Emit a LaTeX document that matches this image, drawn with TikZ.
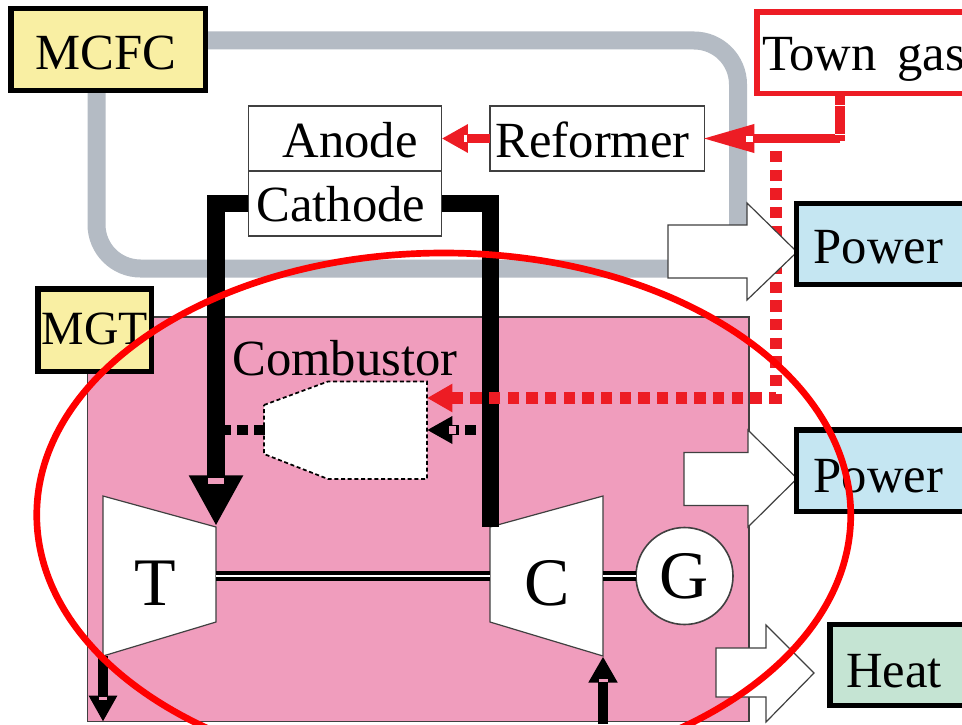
\documentclass[tikz,border=0pt]{standalone}
\usepackage{fontspec}
\setmainfont{Liberation Serif}
\usetikzlibrary{arrows.meta}
\definecolor{pinkfill}{HTML}{F09DBD}
\definecolor{bluefill}{HTML}{C5E6F2}
\definecolor{greenfill}{HTML}{C5E4D3}
\definecolor{yellowfill}{HTML}{F9EFA3}
\definecolor{pipegrey}{HTML}{B4BBC4}
\definecolor{gasred}{HTML}{ED1C24}
\definecolor{edgegrey}{HTML}{404040}
\tikzset{
  bx/.style 2 args={minimum width=#1*0.75pt,minimum height=#2*0.75pt,inner sep=0pt,outer sep=0pt},
  txt/.style={font=\fontsize{38}{38}\selectfont,text height=29pt,text depth=0pt},
  thinbox/.style={draw=edgegrey,line width=1pt,fill=white,txt},
  heavybox/.style={draw=black,line width=4pt,txt},
  pipe/.style={draw=pipegrey,line width=13.5pt,rounded corners=33pt},
  heavyline/.style={draw=black,line width=13pt},
  gasline/.style={draw=gasred,line width=7.2pt},
  dotred/.style={draw=gasred,line width=8.5pt,dash pattern=on 8.5pt off 5.5pt},
  dotblack/.style={draw=black,line width=7.5pt,dash pattern=on 8.25pt off 4.5pt},
  bigarrow/.style={fill=white,draw=edgegrey,line width=0.9pt,line join=miter},
  machine/.style={fill=white,draw=edgegrey,line width=0.9pt},
  shaft/.style={draw=black,line width=3pt,double=white,double distance=1.2pt},
  letter/.style={font=\fontsize{51}{51}\selectfont,inner sep=0pt},
  slit/.style={fill=#1,draw=none},
}
\begin{document}
\begin{tikzpicture}[x=0.75pt,y=-0.75pt]
\clip (0,0) rectangle (962,724);
\fill[white] (0,0) rectangle (962,724);

% pink MGT block
\draw[fill=pinkfill,draw=edgegrey,line width=1.1pt] (87.3,317) rectangle (749,721.7);

% grey loop
\coordinate (loopA) at (96.5,90);
\coordinate (loopB) at (96.5,268.5);
\coordinate (loopC) at (680,268.5);
\coordinate (loopD) at (205,40.5);
\coordinate (loopE) at (738,40.5);
\coordinate (loopF) at (738,240);
\draw[pipe] (loopA) -- (loopB) -- (loopC);
\draw[pipe] (loopD) -- (loopE) -- (loopF);

% combustor
\coordinate (cbA) at (264,405);
\coordinate (cbB) at (328,381.5);
\coordinate (cbC) at (427,381.5);
\coordinate (cbD) at (427,479);
\coordinate (cbE) at (328,479);
\coordinate (cbF) at (264,454);
\coordinate (cbGas) at (427,398);
\coordinate (cbAir) at (427,430);
\coordinate (cbOut) at (265,430);
\draw[fill=white,draw=black,line width=1.3pt,dash pattern=on 3pt off 2pt] (cbA) -- (cbB) -- (cbC) -- (cbD) -- (cbE) -- (cbF) -- cycle;
\node[txt,text height=22.5pt,inner sep=0pt] (combustor) at (345,360) {Combustor};

% turbine and compressor
\coordinate (tA) at (103,496);
\coordinate (tB) at (216,527);
\coordinate (tC) at (216,622);
\coordinate (tD) at (103,656);
\coordinate (cA) at (490,527);
\coordinate (cB) at (603,496);
\coordinate (cC) at (603,656);
\coordinate (cD) at (490,622);
\draw[machine] (tA) -- (tB) -- (tC) -- (tD) -- cycle;
\draw[machine] (cA) -- (cB) -- (cC) -- (cD) -- cycle;
\node[letter] (tlabel) at (155,583) {T};
\node[letter] (clabel) at (547,583) {C};
\coordinate (tShaft) at (216,576);
\coordinate (cShaft) at (490,576);
\coordinate (cShaftR) at (603,576);
\draw[shaft] (tShaft) -- (cShaft);
\node[circle,draw=edgegrey,line width=1.2pt,fill=white,minimum size=97*0.75pt,inner sep=0pt,outer sep=0pt,letter] (gen) at (684.5,576) {G};
\draw[shaft] (cShaftR) -- (gen.west);

% black lines
\node[thinbox,bx={193.5}{65}] (anode) at (345,138.5) {\hspace*{7.5pt}Anode};
\node[thinbox,bx={193.5}{65},text height=27.4pt] (cathode) at (345,203.5) {\hspace*{-6pt}Cathode};
\node[thinbox,bx={214.3}{65}] (reformer) at (597.2,138.5) {\hspace*{-6.8pt}Reformer};
\coordinate (hotL) at (216,203.5);
\coordinate (hotR) at (490.5,203.5);
\coordinate (tipT) at (216,526);
\coordinate (cEnd) at (490.5,527);
\draw[heavyline,-{Triangle[length=38pt,width=38pt,sep=0pt]}] (cathode.west) -- (hotL) -- (tipT);
\draw[heavyline] (cathode.east) -- (hotR) -- (cEnd);
\draw[dotblack] (cbOut) -- (tipT |- cbOut);
\coordinate (cAir) at (493,430);
\draw[dotblack,-{Triangle[length=19pt,width=19.5pt,sep=0pt]}] (cAir) -- (cbAir);

% town gas box and red lines
\node[draw=gasred,line width=4.4pt,bx={260}{81.5},txt,text height=26pt,fill=white,text width=250*0.75pt,align=left] (town) at (887,52.75) {Town\hspace{3pt} gas};
\coordinate (tap) at (840,138.5);
\coordinate (tapEnd) at (840,141);
\draw[draw=gasred,line width=7.5pt] (town.south -| tap) -- (tapEnd);
\draw[gasline,-{Triangle[length=40pt,width=19.5pt,sep=0pt]},shorten >=-2.4pt] (tap) -- (reformer.east);
\draw[gasline,-{Triangle[length=19.5pt,width=20pt,sep=0pt]}] (reformer.west) -- (anode.east);
\coordinate (gasTop) at (776,151);
\coordinate (gasBend) at (776,398);
\draw[dotred,-{Triangle[length=19pt,width=20pt,sep=0pt]}] (gasTop) -- (gasBend) -- (cbGas);

% big white arrows and their boxes
\coordinate (p1tip) at (797,252);
\coordinate (p2tip) at (797,478.5);
\draw[bigarrow] (668,225) -- (747,225) -- (747,203) -- (p1tip) -- (747,300) -- (747,278) -- (668,278) -- cycle;
\draw[bigarrow] (684,452.5) -- (748,452.5) -- (748,430) -- (p2tip) -- (748,527) -- (748,505.5) -- (684,505.5) -- cycle;
\coordinate (h1tip) at (814,673);
\draw[bigarrow] (716,648) -- (766,648) -- (766,625) -- (h1tip) -- (766,722) -- (766,697) -- (716,697) -- cycle;
\node[heavybox,fill=bluefill,bx={200}{81},text height=28.5pt,text width=166*0.75pt,align=left] (power1) at (896.5,244) {Power};
\node[heavybox,fill=bluefill,bx={200}{81.5},text height=33pt,text width=166*0.75pt,align=left] (power2) at (896.5,470.75) {Power};
\node[heavybox,fill=greenfill,bx={170}{81},text height=33pt,text width=138*0.75pt,align=left] (heat) at (915,665) {Heat};

% remaining boxes
\node[heavybox,fill=yellowfill,bx={194.5}{82},text height=30pt] (mcfc) at (108.25,49.5) {\hspace*{-3pt}MCFC};
\node[heavybox,fill=yellowfill,bx={113.7}{82.5},font=\fontsize{35.8}{35.8}\selectfont,text height=22pt] (mgt) at (94.8,330.2) {MGT};

% exhaust and intake
\coordinate (exEnd) at (103,721.7);
\coordinate (inStart) at (603,724);
\coordinate (inTip) at (603,656.5);
\draw[black,line width=7pt,-{Triangle[length=19.5pt,width=20pt,sep=0pt]}] (tD) -- (exEnd);
\draw[black,line width=7pt,-{Triangle[length=19.5pt,width=20.5pt,sep=0pt]}] (inStart) -- (inTip);

% pale slits inside the arrowheads and the gas stem
\fill[slit=pinkfill] (208,477.5) rectangle (224,484);
\fill[slit=pinkfill] (99,697) rectangle (107,700);
\fill[slit=pinkfill] (599,679) rectangle (608,682);
\fill[slit=pinkfill] (448.5,426) rectangle (456,434);
\fill[slit=white] (746,135.5) rectangle (753,142);
\fill[slit=white] (464,135) rectangle (467,142);
\fill[slit=white] (835,105) rectangle (845,106);
\fill[slit=white] (835,134) rectangle (845,135);

% red ellipse
\draw[red,line width=5pt] (443.75,515) ellipse [x radius=407, y radius=262];
\end{tikzpicture}
\end{document}
